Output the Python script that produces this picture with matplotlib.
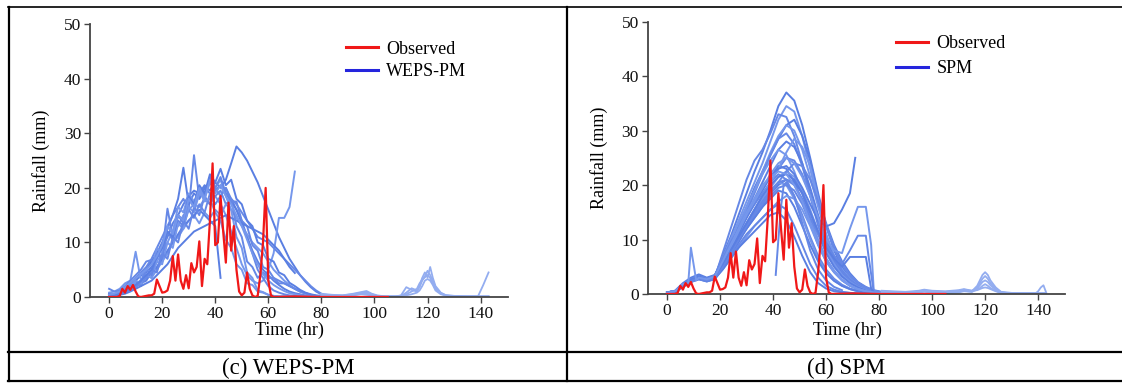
import matplotlib
matplotlib.use("Agg")
import matplotlib.pyplot as plt
from matplotlib.lines import Line2D

plt.rcParams['font.family'] = ['Liberation Serif', 'DejaVu Serif']

# ---------------- data ----------------
obs_hours = list(range(0, 63)) + [70, 80, 90, 100, 105]
observed = [0, 0, 0, 0, 0.2,
            1.5, 0.8, 2.0, 1.3, 2.2,
            1.0, 0.1, 0, 0.1, 0.2,
            0.3, 0.3, 0.6, 3.2, 2.0,
            0.8, 0.9, 1.2, 3.0, 7.5,
            3.0, 7.8, 3.0, 1.5, 4.0,
            1.6, 6.2, 4.5, 5.5, 10.2,
            2.0, 7.0, 6.0, 14.0, 24.5,
            9.5, 10.0, 18.5, 12.0, 6.3,
            17.3, 8.5, 13.0, 5.0, 1.0,
            0.3, 0.8, 4.5, 1.5, 0.3,
            0, 0.2, 4.0, 10.0, 20.0,
            3.0, 0.3, 0,
            0.1, 0, 0, 0, 0]

# WEPS-PM members, every 2 h from 0 h
hours_c = list(range(0, 81, 2))
weps_members = [
    [0.5, 0.3, 0.6, 1.2, 1.8, 2.5, 3, 4.5, 5.5, 7, 9, 11, 13.5, 15, 17, 18.5, 19.5, 19, 20.5, 19.5, 21, 20, 21.5, 24.5,
     27.6, 26.5, 25, 23, 21, 18.5, 16, 13.5, 11, 9, 7, 5.5, 4, 2.8, 1.8, 1, 0.5],
    [0.3, 0.5, 1, 1.5, 2, 3, 4, 3.5, 5, 6.5, 8, 10, 12, 13, 15, 16, 17, 16.5, 18, 17, 18.5, 17, 15, 12,
     9, 6, 4, 3, 2.5, 3, 5, 8, 14.5, 14.5, 16.5, 23],
    [0.3, 0.5, 1, 1.5, 2.5, 3.5, 4.5, 5.5, 7, 9, 11, 13, 15, 16.5, 18, 16, 26, 18, 20, 19, 18.5, 19.5, 17, 18, 16,
     14, 11, 8, 5, 3.5, 2, 1.2, 0.8, 0.5, 0.3, 0.2, 0.2, 0.2, 0.1, 0.1, 0.1],
    [0.5, 0.4, 0.8, 1.2, 2, 3, 4, 5, 6.5, 8, 10, 12.5, 15, 18, 23.7, 17, 19, 18, 20, 21, 19.5, 20.5, 19, 17.5, 16,
     13.5, 11, 8.5, 6.5, 5, 4, 3, 2.2, 1.5, 1, 0.7, 0.5, 0.3, 0.2, 0.1, 0.1],
    [0.8, 1, 1.5, 2.5, 3, 8.3, 3, 4, 3.5, 5, 6.5, 8, 10, 11, 12.5, 14, 15, 13.5, 15.5, 14.5, 16, 15, 17, 16, 14.5,
     13, 11.5, 10, 9, 8, 6.5, 5, 4, 3, 2.2, 1.5, 1, 0.6, 0.4, 0.2, 0.2],
    [1.5, 1, 1.2, 2, 3, 4, 5, 6.5, 6.8, 5, 8, 16.2, 11, 14, 13, 16, 14.5, 17, 15.5, 19, 17, 18.5, 20, 18, 17,
     15.5, 14, 12.5, 11, 10.5, 10, 9, 8, 7, 6, 5, 4, 3, 2, 1.2, 0.6],
    [0.5, 0.3, 0.5, 1, 1.5, 2, 2.5, 3, 4.5, 5.5, 7, 8.5, 10, 11.5, 13, 14, 15, 16, 15, 14, 13, 3.5],
    [0.3, 0.4, 0.7, 1, 1.5, 2.5, 2, 4, 3.5, 6.5, 6, 10, 9, 13.5, 12.5, 16.5, 15.5, 19, 18, 21, 20, 21.5, 18.5, 16,
     11, 9, 4.5, 3.5, 1.2, 0.9, 0.4, 0.2, 0.1, 0.1, 0.1, 0.1, 0.1, 0.1, 0.1, 0.1, 0.1],
    [0.2, 0.3, 0.5, 0.8, 1.2, 1.8, 2.5, 3.5, 5, 4.5, 8, 7, 11, 10, 14, 12.5, 16.5, 15, 18.5, 17, 20, 18.5, 20,
     17.5, 17.5, 14, 13, 9.5, 8.5, 5.5, 5, 3.5, 3, 2.5, 2, 1.5, 1, 0.7, 0.4, 0.2, 0.1],
    [0.2, 0.3, 0.4, 0.6, 1, 1.5, 2, 2.5, 3, 4, 5, 6, 7.5, 9, 10, 11, 12, 12.5, 13, 13.5, 14, 14.5, 15, 14.5, 14,
     13.5, 13, 12.5, 12, 11.5, 10.5, 9.5, 8.5, 7, 5.5, 4.4],
    [0.3, 0.5, 0.7, 1.2, 1.8, 3, 2.5, 5, 4.5, 9, 8, 13, 12, 16.5, 15.5, 19, 17.5, 19.5, 17.5, 18, 15.5, 14, 10.5,
     9, 6, 5, 2.5, 2.2, 1, 0.8, 0.4, 0.2, 0.1, 0.1, 0.1, 0.1, 0.1, 0.1, 0.1, 0.1, 0.1],
    [0.2, 0.3, 0.5, 0.9, 1.3, 2, 2.8, 5, 4, 8, 7, 12, 10.5, 15, 13.5, 18, 16.5, 20, 18.5, 22, 20, 22, 19, 18,
     13, 11, 6.5, 5.5, 3.5, 4.5, 3.5, 3.5, 2.5, 2.5, 2, 1.5, 1, 0.7, 0.4, 0.2, 0.1],
    [0.2, 0.3, 0.6, 1, 1.6, 2.2, 3, 4, 5, 7.5, 9, 12, 11, 15, 14, 18.5, 17, 20.5, 19, 22.5, 21, 23.5, 20.5,
     21.5, 18, 17, 14, 13, 10, 9.5, 7, 6.5, 4.5, 4, 2.6, 2, 1.3, 0.8, 0.5, 0.3, 0.2],
    [0.4, 0.6, 1, 1.8, 2.6, 3.4, 4.2, 5, 6, 7.5, 9.5, 13, 11.5, 15, 14, 18, 16.5, 20, 18, 21.5, 19, 20.5, 18.5,
     17, 15, 13, 10.5, 8, 6, 4.2, 3, 2.2, 1.6, 1.1, 0.7, 0.5, 0.3, 0.2, 0.1, 0.1, 0.1],
]
hours_c_tail = [80, 84, 88, 92, 95, 97, 99, 101, 104, 108, 110, 112, 114, 116, 117, 118, 119, 120, 121, 122,
                123, 125, 127, 130, 135, 139, 141, 143]
weps_tails = [
    [0.5, 0.3, 0.2, 0.4, 0.6, 0.9, 0.5, 0.2, 0.1, 0.1, 0.3, 1.8, 1.3, 1.0, 2.0, 3.5, 4.5, 3.6, 5.5, 3.5,
     2.0, 0.8, 0.3, 0.2, 0.1, 0.1, 2.2, 4.5],
    [0.4, 0.3, 0.3, 0.5, 0.8, 0.6, 0.4, 0.2, 0.1, 0.1, 0.2, 0.8, 1.6, 1.2, 1.8, 3.0, 3.8, 4.8, 4.0, 3.0,
     1.8, 0.7, 0.3, 0.1, 0.1, 0.1, 0.1, 0.1],
    [0.3, 0.2, 0.2, 0.3, 0.5, 0.4, 0.3, 0.1, 0.1, 0.1, 0.1, 0.5, 1.0, 1.5, 2.5, 3.2, 3.6, 4.0, 3.5, 2.5,
     1.5, 0.6, 0.2, 0.1, 0.1, 0.1, 0.1, 0.1],
    [0.6, 0.4, 0.3, 0.6, 0.9, 1.1, 0.6, 0.3, 0.1, 0.1, 0.2, 0.3, 0.5, 0.8, 1.2, 2.0, 3.0, 3.3, 3.0, 2.2,
     1.2, 0.5, 0.3, 0.2, 0.1, 0.1, 0.1, 0.1],
]

# SPM members, every 3 h from 0 h
hours_d = list(range(0, 82, 3))
spm_members = [
    [0.2, 0.4, 1.5, 2.5, 3.0, 2.6, 3.2, 7.0, 10.5, 14.5, 18.5, 22.5, 26.0, 30.0, 34.5, 37.0, 35.5, 31.0, 25.0, 18.5, 12.5, 8.0, 5.0, 3.0, 1.8, 1.0, 0.5, 0.3],
    [0.3, 0.5, 1.8, 2.8, 3.3, 2.9, 3.4, 6.5, 10.0, 13.5, 17.0, 20.5, 24.0, 28.0, 32.0, 34.5, 33.5, 29.0, 23.0, 16.5, 11.0, 7.0, 4.5, 2.8, 1.6, 0.9, 0.5, 0.3],
    [0.2, 0.4, 1.4, 2.4, 2.9, 2.5, 3.0, 7.5, 12.0, 16.5, 21.0, 24.5, 26.5, 29.5, 33.0, 32.5, 29.0, 24.0, 18.0, 12.5, 8.5, 5.5, 3.5, 2.2, 1.3, 0.7, 0.4, 0.2],
    [0.3, 0.6, 2.0, 3.0, 3.6, 3.0, 3.5, 6.0, 9.0, 12.5, 16.0, 19.5, 22.5, 25.5, 28.5, 31.0, 32.0, 29.0, 24.5, 18.0, 13.0, 9.0, 6.0, 3.8, 2.2, 1.3, 0.7, 0.4],
    [0.2, 0.4, 1.3, 2.2, 2.7, 2.3, 2.8, 5.5, 8.5, 12.0, 15.5, 19.0, 22.5, 26.0, 29.0, 31.0, 30.0, 26.5, 21.5, 16.0, 11.0, 7.0, 4.5, 2.8, 1.6, 0.9, 0.5, 0.2],
    [0.3, 0.5, 1.6, 2.6, 3.1, 2.7, 3.3, 6.0, 9.0, 12.0, 15.0, 18.5, 22.0, 25.5, 28.5, 29.5, 27.5, 23.5, 18.5, 13.5, 9.0, 6.0, 3.8, 2.3, 1.4, 0.8, 0.4, 0.2],
    [0.2, 0.4, 1.5, 2.5, 3.0, 2.6, 3.0, 5.5, 8.5, 11.5, 14.5, 17.5, 20.5, 23.5, 26.5, 28.0, 27.0, 24.0, 19.5, 14.5, 10.0, 6.5, 4.2, 2.6, 1.5, 0.8, 0.4, 0.2],
    [0.3, 0.5, 1.7, 2.7, 3.2, 2.8, 3.2, 6.5, 10.0, 13.0, 16.0, 19.0, 22.0, 24.5, 26.5, 25.5, 22.5, 18.5, 14.0, 10.0, 6.5, 4.2, 2.6, 1.6, 0.9, 0.5, 0.3, 0.2],
    [0.2, 0.4, 1.4, 2.3, 2.8, 2.4, 2.9, 5.5, 8.0, 10.5, 13.0, 15.5, 18.0, 20.5, 23.0, 25.0, 24.5, 22.0, 18.0, 13.5, 9.5, 6.5, 4.2, 2.6, 1.5, 0.8, 0.4, 0.2],
    [0.3, 0.5, 1.6, 2.6, 3.1, 2.7, 3.1, 6.0, 9.0, 11.5, 14.0, 16.5, 19.0, 21.5, 23.5, 23.0, 20.5, 17.0, 13.0, 9.0, 6.0, 4.0, 2.5, 1.5, 0.9, 0.5, 0.3, 0.2],
    [0.2, 0.4, 1.5, 2.5, 3.0, 2.6, 3.0, 5.0, 7.5, 10.0, 12.5, 15.0, 17.5, 19.5, 21.5, 22.5, 21.5, 19.0, 15.5, 11.5, 8.0, 5.5, 3.5, 2.2, 1.3, 0.7, 0.4, 0.2],
    [0.3, 0.5, 1.7, 2.7, 3.2, 2.8, 3.4, 6.5, 9.5, 12.0, 14.5, 16.5, 18.5, 20.5, 22.0, 21.0, 18.0, 14.5, 10.5, 7.0, 4.5, 2.8, 1.7, 1.0, 0.6, 0.3, 0.2, 0.1],
    [0.2, 0.4, 1.3, 2.2, 2.7, 2.3, 2.7, 4.8, 7.0, 9.5, 12.0, 14.5, 16.5, 18.5, 20.0, 21.0, 20.5, 18.5, 15.0, 11.0, 7.5, 5.0, 3.2, 2.0, 1.2, 0.6, 0.3, 0.2],
    [0.3, 0.5, 1.6, 2.6, 3.1, 2.7, 3.2, 5.5, 8.0, 10.5, 13.0, 15.0, 17.0, 19.0, 20.5, 20.0, 17.5, 14.0, 10.0, 6.5, 4.0, 2.5, 1.5, 0.9, 0.5, 0.3, 0.2, 0.1],
    [0.2, 0.4, 1.5, 2.4, 2.9, 2.5, 2.9, 5.0, 7.5, 10.0, 12.0, 14.0, 16.0, 18.0, 19.5, 20.0, 19.0, 16.5, 13.0, 9.5, 6.5, 4.2, 2.6, 1.6, 0.9, 0.5, 0.3, 0.2],
    [0.3, 0.5, 1.8, 2.8, 3.3, 2.9, 3.3, 5.5, 8.0, 10.0, 12.0, 14.0, 16.0, 17.5, 19.0, 18.5, 16.0, 12.5, 9.0, 6.0, 3.8, 2.4, 1.5, 0.9, 0.5, 0.3, 0.2, 0.1],
    [0.2, 0.4, 1.4, 2.3, 2.8, 2.4, 2.8, 4.5, 6.5, 8.5, 10.5, 12.5, 14.0, 15.5, 17.0, 18.0, 17.5, 15.5, 12.5, 9.0, 6.0, 4.0, 2.5, 1.5, 0.9, 0.5, 0.3, 0.2],
    [0.3, 0.5, 1.6, 2.6, 3.0, 2.6, 3.0, 5.0, 7.0, 9.0, 11.0, 12.5, 14.0, 15.5, 16.5, 15.5, 12.5, 9.0, 5.5, 3.0, 1.5, 0.8, 0.4, 0.2, 0.1, 0.1, 0.1, 0.1],
    [0.2, 0.4, 1.5, 2.4, 2.8, 2.4, 2.8, 4.5, 6.5, 8.5, 10.0, 11.5, 13.0, 14.5, 15.0, 13.5, 10.5, 7.0, 4.0, 2.0, 1.0, 0.5, 0.3, 0.2, 0.1, 0.1, 0.1, 0.1],
    [0.3, 0.5, 1.7, 2.7, 3.2, 2.8, 3.2, 5.5, 8.0, 10.5, 13.0, 15.5, 18.0, 20.5, 23.0, 26.0, 28.5, 27.0, 23.5, 17.5, 12.5, 8.5, 5.5, 3.4, 2.0, 1.2, 0.6, 0.3],
    [0.2, 0.4, 1.5, 2.5, 3.0, 2.6, 3.0, 5.0, 7.5, 10.0, 12.5, 14.5, 16.5, 18.5, 20.5, 22.5, 24.0, 23.5, 21.0, 17.0, 12.5, 8.5, 5.5, 3.4, 2.0, 1.2, 0.6, 0.3],
]
# SPM members that do not follow the 3 h grid
spm_odd_hours = [
    [0, 3, 6, 9, 12, 15, 18, 21, 24, 27, 30, 33, 36, 39, 42, 45, 48, 51, 54, 57, 60, 63, 66, 69, 71],
    [0, 3, 6, 9, 12, 15, 18, 21, 24, 27, 30, 33, 36, 39, 42, 45, 48, 51, 54, 57, 60, 63, 66, 69, 72, 75, 77, 78, 81],
    [0, 3, 6, 9, 12, 15, 18, 21, 24, 27, 30, 33, 36, 39, 42, 45, 48, 51, 54, 57, 60, 63, 66, 69, 72, 75, 76, 78, 81],
    [0, 3, 6, 9, 12, 15, 18, 21, 24, 27, 30, 33, 36, 39, 42, 45, 48, 51, 54, 57, 60, 63, 66, 69, 72, 75, 77, 78, 81],
    [0, 3, 6, 8, 9, 11, 12, 15, 18, 21, 24, 27, 30, 33, 36, 39, 42, 45, 48, 51, 54, 57, 60, 63, 66, 69, 72, 75, 78, 81],
    [41, 42, 43, 44, 45, 48, 51, 54, 57, 60, 63, 66],
]
spm_odd_values = [
    [0.2, 0.4, 1.5, 2.5, 3, 2.6, 3, 5.5, 8, 11, 14, 17, 19.5, 21.5, 23, 23.5, 22, 19.5, 16.5, 13.5, 12.4, 13, 15.5, 18.5, 25],
    [0.3, 0.5, 1.6, 2.6, 3.1, 2.7, 3.1, 5.5, 8.5, 11.5, 14.5, 17, 19.5, 22, 24, 25, 24, 21.5, 18, 14, 10, 8, 7.5, 12, 16, 16, 9, 0.5, 0.2],
    [0.2, 0.4, 1.4, 2.4, 2.9, 2.5, 2.9, 5, 7.5, 10, 12.5, 15, 17, 19, 20.5, 21, 20, 17.5, 14, 11, 9, 7, 5.5, 8, 10.7, 10.7, 7, 0.3, 0.2],
    [0.3, 0.5, 1.7, 2.7, 3.2, 2.8, 3.2, 5.5, 8, 10.5, 13, 15.5, 18, 20, 21.5, 22, 21, 18.5, 15, 11.5, 8.5, 6.5, 5, 6.8, 6.8, 6.8, 1, 0.3, 0.2],
    [0.2, 0.5, 1.8, 2, 8.5, 2.5, 3, 2.7, 3.2, 6, 9, 12, 15, 17.5, 20, 21.5, 22.5, 22, 20, 17, 13, 9.5, 6.5, 4.3, 2.7, 1.6, 0.9, 0.5, 0.3, 0.2],
    [3.5, 10, 16, 20, 20.5, 18, 13, 8, 4.5, 2.5, 1.3, 0.7],
]
hours_d_tail = [81, 85, 90, 95, 97, 100, 105, 110, 112, 115, 117, 118, 119, 120, 121, 122, 124, 126, 130, 135,
                139, 140, 141, 142, 143]
spm_tails = [
    [0.4, 0.3, 0.2, 0.5, 0.7, 0.4, 0.3, 0.5, 0.8, 0.5, 1.5, 2.5, 3.5, 4.0, 3.5, 2.5, 1.2, 0.4, 0.2, 0.1, 0.1, 0.5, 1.2, 1.6, 0.3],
    [0.3, 0.3, 0.2, 0.3, 0.5, 0.3, 0.2, 0.4, 0.6, 0.4, 1.2, 2.0, 2.8, 3.3, 2.8, 2.0, 1.0, 0.3, 0.1, 0.1, 0.1, 0.1, 0.1, 0.1, 0.1],
    [0.5, 0.4, 0.3, 0.4, 0.6, 0.5, 0.4, 0.6, 0.7, 0.6, 1.0, 1.6, 2.2, 2.5, 2.2, 1.6, 0.8, 0.3, 0.1, 0.1, 0.1, 0.1, 0.1, 0.1, 0.1],
    [0.3, 0.2, 0.2, 0.3, 0.4, 0.3, 0.2, 0.3, 0.5, 0.4, 0.8, 1.1, 1.5, 1.8, 1.5, 1.1, 0.6, 0.2, 0.1, 0.1, 0.1, 0.1, 0.1, 0.1, 0.1],
    [0.6, 0.5, 0.4, 0.6, 0.8, 0.6, 0.5, 0.7, 0.9, 0.6, 0.7, 0.9, 1.1, 1.2, 1.1, 0.9, 0.5, 0.2, 0.1, 0.1, 0.1, 0.1, 0.1, 0.1, 0.1],
]

x_ticks = [0, 20, 40, 60, 80, 100, 120, 140]
y_ticks = [0, 10, 20, 30, 40, 50]

# ---------------- drawing ----------------
RED = '#f01818'
ENS = ['#5a7fe2', '#7597ec', '#6688e6']
TAIL = '#93adf0'

fig = plt.figure(figsize=(11.22, 3.85), dpi=100)


def style_axes(ax):
    ax.set_xlim(-7.2, 150.3)
    ax.set_ylim(0, 50)
    ax.set_xticks(x_ticks)
    ax.set_yticks(y_ticks)
    for s in ['top', 'right']:
        ax.spines[s].set_visible(False)
    for s in ['left', 'bottom']:
        ax.spines[s].set_color('#444444')
        ax.spines[s].set_linewidth(1.3)
    ax.tick_params(direction='out', length=4, width=1, colors='#444444',
                   labelcolor='#111111', labelsize=12.5, pad=2.5)


def draw_panel(rect, members, hours, tails, tail_hours, label, legend_y, spacing, extra=None):
    ax = fig.add_axes(rect)
    for i, m in enumerate(members):
        ax.plot(hours[:len(m)], m, color=ENS[i % 3], lw=1.4, zorder=2)
    if extra is not None:
        for i, (h, v) in enumerate(zip(*extra)):
            ax.plot(h, v, color=ENS[i % 3], lw=1.4, zorder=2)
    for t in tails:
        ax.plot(tail_hours, t, color=TAIL, lw=1.3, zorder=2)
    ax.plot(obs_hours, observed, color=RED, lw=1.6, zorder=3)
    style_axes(ax)
    handles = [Line2D([], [], color=RED, lw=2.2, label='Observed'),
               Line2D([], [], color='#2525dd', lw=2.2, label=label)]
    ax.legend(handles=handles, loc='upper left', bbox_to_anchor=legend_y,
              frameon=False, fontsize=13, handlelength=1.8, handletextpad=0.45,
              labelspacing=spacing, borderpad=0, borderaxespad=0)
    return ax


draw_panel([0.0802, 0.2286, 0.3725, 0.7083], weps_members, hours_c, weps_tails, hours_c_tail,
           'WEPS-PM', (0.612, 0.94), 0.3)
draw_panel([0.5775, 0.2364, 0.3721, 0.7073], spm_members, hours_d, spm_tails, hours_d_tail,
           'SPM', (0.594, 0.95), 0.45, extra=(spm_odd_hours, spm_odd_values))

# axis labels
fig.text(41 / 1122, 1 - 161 / 385, 'Rainfall (mm)', rotation=90, ha='center', va='center', fontsize=13)
fig.text(599 / 1122, 1 - 158 / 385, 'Rainfall (mm)', rotation=90, ha='center', va='center', fontsize=13)
fig.text(289 / 1122, 1 - 330 / 385, 'Time (hr)', ha='center', va='center', fontsize=13)
fig.text(847 / 1122, 1 - 330 / 385, 'Time (hr)', ha='center', va='center', fontsize=13)

# table frame
def hline(y, x0=8 / 1122, x1=1.0, lw=1.6):
    fig.add_artist(Line2D([x0, x1], [y, y], color='black', lw=lw, transform=fig.transFigure))


def vline(x, y0=1 - 381 / 385, y1=1 - 7 / 385, lw=1.6):
    fig.add_artist(Line2D([x, x], [y0, y1], color='black', lw=lw, transform=fig.transFigure))


hline(1 - 7 / 385, lw=1.2)
hline(1 - 352 / 385)
hline(1 - 381 / 385)
vline(9 / 1122)
vline(567 / 1122)

fig.text(288 / 1122, 1 - 368 / 385, '(c) WEPS-PM', ha='center', va='center', fontsize=16.5)
fig.text(846 / 1122, 1 - 368 / 385, '(d) SPM', ha='center', va='center', fontsize=16.5)

fig.savefig('out.png', dpi=100)
